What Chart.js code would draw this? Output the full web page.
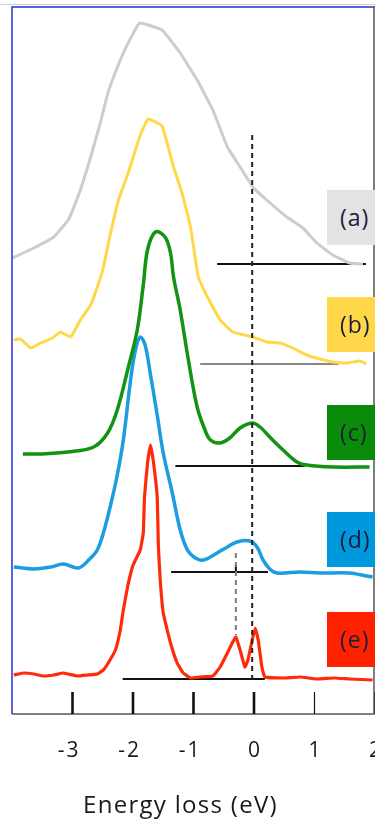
<!DOCTYPE html>
<html>
<head>
<meta charset="utf-8">
<script src="https://cdn.jsdelivr.net/npm/chart.js@4/dist/chart.umd.min.js"></script>
<style>
  html, body { margin: 0; padding: 0; background: #ffffff; overflow: hidden; width: 375px; height: 823px; }
  #wrap { position: relative; width: 390px; height: 823px; }
  canvas { position: absolute; left: 0; top: 0; }
  .tag { position: absolute; left: 327px; width: 60px; height: 55px; font-family: "Open Sans", sans-serif; font-size: 23px; letter-spacing: 1px; color: #1c1c3a; line-height: 55px; padding-left: 13px; box-sizing: border-box; }
  #xtitle { position: absolute; left: 0; width: 361px; top: 792px; line-height: 24px; text-align: center; font-family: "Open Sans", sans-serif; font-size: 24px; letter-spacing: 1.3px; color: #1a1a1a; white-space: nowrap; }
</style>
</head>
<body>
<div id="wrap">
  <canvas id="c" width="390" height="823"></canvas>
  <div class="tag" id="tag0"></div>
  <div class="tag" id="tag1"></div>
  <div class="tag" id="tag2"></div>
  <div class="tag" id="tag3"></div>
  <div class="tag" id="tag4"></div>
  <div id="xtitle">Energy loss (eV)</div>
</div>
<script>
// ---- data (energy in eV, intensity in arbitrary units, spectra stacked) ----
const xTickValues = [-3, -2, -1, 0, 1, 2];
const xTickLabels = ['-3', '-2', '-1', '0', '1', '2'];

const energyA = [-3.99,-3.64,-3.31,-3.06,-2.87,-2.70,-2.54,-2.41,-2.21,-2.08,-1.89,-1.52,-1.22,-0.94,-0.68,-0.44,-0.23,-0.02,0.21,0.54,0.79,1.04,1.30,1.58,1.80];
const intensityA = [456,466,477,495,524,557,591,622,654,671,691,684,661,634,604,567,547,527,514,497,487,471,459,451,450];

const energyB = [-3.97,-3.86,-3.69,-3.53,-3.33,-3.20,-3.03,-2.87,-2.70,-2.59,-2.50,-2.37,-2.24,-2.08,-1.88,-1.75,-1.52,-1.33,-1.19,-1.05,-0.92,-0.77,-0.56,-0.35,-0.02,0.21,0.43,0.64,0.87,1.09,1.30,1.53,1.75,1.86];
const intensityB = [374,375,366,371,376,382,377,394,409,427,444,481,514,541,579,595,588,547,521,487,437,417,394,382,377,372,371,366,359,355,352,351,353,350];

const energyC = [-3.82,-3.53,-3.08,-2.65,-2.42,-2.26,-2.08,-1.93,-1.83,-1.76,-1.63,-1.47,-1.38,-1.33,-1.22,-1.09,-0.94,-0.81,-0.72,-0.56,-0.40,-0.23,-0.03,0.10,0.26,0.48,0.71,0.87,1.30,1.91];
const intensityC = [260,260,262,267,281,304,346,384,429,464,482,477,461,437,404,356,307,284,274,271,276,286,291,287,277,264,252,249,247,247];

const energyD = [-3.97,-3.64,-3.36,-3.15,-2.90,-2.70,-2.59,-2.49,-2.37,-2.26,-2.16,-2.04,-1.96,-1.88,-1.80,-1.71,-1.60,-1.50,-1.35,-1.22,-1.10,-0.97,-0.84,-0.61,-0.44,-0.28,-0.07,0.05,0.15,0.26,0.38,0.76,1.09,1.58,1.86,1.96];
const intensityD = [147,145,147,150,146,156,164,181,209,239,274,334,364,377,369,339,299,261,221,184,164,156,154,161,167,172,173,167,154,145,141,142,141,141,138,137];

const energyE = [-3.97,-3.81,-3.64,-3.48,-3.31,-3.15,-2.92,-2.75,-2.59,-2.49,-2.41,-2.29,-2.21,-2.16,-2.09,-2.01,-1.96,-1.88,-1.83,-1.81,-1.76,-1.71,-1.66,-1.60,-1.58,-1.55,-1.50,-1.38,-1.27,-1.17,-1.05,-0.89,-0.68,-0.56,-0.44,-0.36,-0.30,-0.23,-0.15,-0.10,-0.03,0.02,0.07,0.13,0.18,0.48,0.76,1.04,1.33,1.58,1.96];
const intensityE = [39,41,40,38,39,41,38,39,40,44,51,64,84,104,127,147,154,164,181,217,251,269,251,217,167,134,101,71,51,41,36,37,38,47,61,71,77,64,47,54,74,86,74,47,37,36,37,35,36,35,34];

const spectrumLabels = ['(a)', '(b)', '(c)', '(d)', '(e)'];
const baselineLevel = [450, 350, 248, 142, 35];
const baselineStart = [-0.61, -0.89, -1.30, -1.37, -2.17];
const baselineEnd = [1.85, 1.40, 0.84, 0.23, 0.18];

const markerEnergy = [-0.03, -0.30];
const markerTop = [579, 161];
const markerBottom = [34, 79];

// ---- styles ----
const curveColors = ['#cdcdcd', '#ffd84a', '#129312', '#1b9de0', '#ff2a0a'];
const curveWidths = [3, 3, 3.5, 3.5, 3.2];
const tagColors = ['#e3e3e3', '#ffd84a', '#0a8c0a', '#0098dc', '#ff2200'];
const tagTops = [190, 297, 405, 512, 612];
const baselineWidths = [2.2, 1.2, 2.2, 2.2, 2.2];
const markerColors = ['#222222', '#7a7a7a'];

const toPts = (xs, ys) => xs.map((x, i) => ({ x: x, y: ys[i] }));
const energies = [energyA, energyB, energyC, energyD, energyE];
const intensities = [intensityA, intensityB, intensityC, intensityD, intensityE];

const datasets = [];
energies.forEach((xs, i) => {
  datasets.push({
    label: spectrumLabels[i],
    data: toPts(xs, intensities[i]),
    borderColor: curveColors[i],
    borderWidth: curveWidths[i],
    pointRadius: 0,
    tension: (i === 2 || i === 3) ? 0.35 : 0.1,
    order: 1
  });
});
baselineLevel.forEach((lv, i) => {
  datasets.push({
    label: 'baseline ' + spectrumLabels[i],
    data: [{ x: baselineStart[i], y: lv }, { x: baselineEnd[i], y: lv }],
    borderColor: '#111111',
    borderWidth: baselineWidths[i],
    pointRadius: 0,
    order: 2
  });
});
markerEnergy.forEach((e, i) => {
  datasets.push({
    label: 'marker ' + i,
    data: [{ x: e, y: markerTop[i] }, { x: e, y: markerBottom[i] }],
    borderColor: markerColors[i],
    borderWidth: 2,
    borderDash: [5, 4],
    pointRadius: 0,
    order: 0
  });
});
datasets.push({
  label: 'shoulder tick',
  data: [{ x: markerEnergy[1], y: baselineLevel[3] }, { x: markerEnergy[1], y: baselineLevel[3] + 7 }],
  borderColor: '#111111', borderWidth: 2, pointRadius: 0, order: 0
});

spectrumLabels.forEach((t, i) => {
  const el = document.getElementById('tag' + i);
  el.textContent = t;
  el.style.background = tagColors[i];
  el.style.top = tagTops[i] + 'px';
});

const framePlugin = {
  id: 'frame',
  afterDatasetsDraw(chart) {
    const { ctx, chartArea: a } = chart;
    const xs = chart.scales.x;
    ctx.save();
    ctx.strokeStyle = '#d0d0d0'; ctx.lineWidth = 1;
    ctx.beginPath(); ctx.moveTo(0, a.top - 2.5); ctx.lineTo(a.right, a.top - 2.5); ctx.stroke();
    ctx.strokeStyle = '#2b2bdc'; ctx.lineWidth = 1.5;
    ctx.beginPath(); ctx.moveTo(a.left, a.bottom); ctx.lineTo(a.left, a.top); ctx.lineTo(a.right, a.top); ctx.stroke();
    ctx.strokeStyle = '#555555'; ctx.lineWidth = 1.5;
    ctx.beginPath(); ctx.moveTo(a.left, a.bottom); ctx.lineTo(a.right - 1, a.bottom); ctx.lineTo(a.right - 1, a.top); ctx.stroke();
    ctx.font = '21px "Open Sans"';
    try { ctx.letterSpacing = '2px'; } catch (e) {}
    ctx.fillStyle = '#1a1a1a';
    ctx.textBaseline = 'alphabetic';
    ctx.textAlign = 'left';
    xTickValues.forEach((v, i) => {
      const px = xs.getPixelForValue(v);
      ctx.strokeStyle = '#111111';
      ctx.lineWidth = v >= 1 ? 1.2 : 2.6;
      ctx.beginPath(); ctx.moveTo(px, a.bottom); ctx.lineTo(px, a.bottom - 22); ctx.stroke();
      const txt = xTickLabels[i];
      const digits = txt.replace('-', '');
      const wAll = ctx.measureText(txt).width;
      const wDig = ctx.measureText(digits).width;
      ctx.fillText(txt, px - wAll + wDig / 2 + 1, a.bottom + 43);
    });
    ctx.restore();
  }
};

new Chart(document.getElementById('c'), {
  type: 'line',
  data: { datasets: datasets },
  options: {
    responsive: false,
    devicePixelRatio: 1,
    animation: false,
    events: [],
    layout: { padding: { left: 12, top: 7, right: 15, bottom: 109 } },
    plugins: { legend: { display: false }, tooltip: { enabled: false } },
    scales: {
      x: { type: 'linear', min: -4, max: 2, display: false },
      y: { type: 'linear', min: 0, max: 707, display: false }
    }
  },
  plugins: [framePlugin]
});
</script>
</body>
</html>
